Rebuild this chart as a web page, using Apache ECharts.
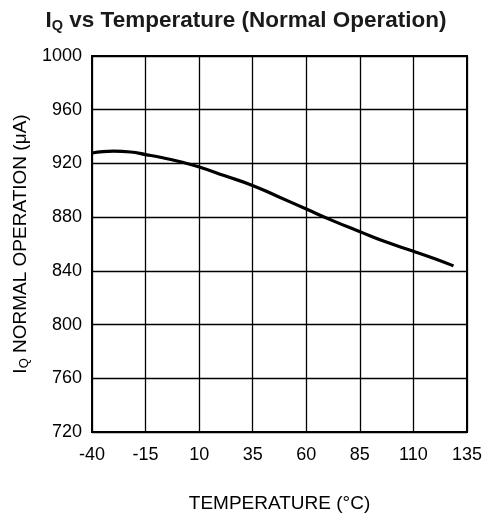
<!DOCTYPE html>
<html><head><meta charset="utf-8">
<script src="https://cdn.jsdelivr.net/npm/echarts@6/dist/echarts.min.js"></script>
<style>html,body{margin:0;padding:0;background:#fff}#c{width:487px;height:523px}</style>
</head><body><div id="c"></div>
<script>
const temperature = [-40, -35, -30, -22, -15, -7, 1.2, 9.7, 22, 34.6, 47, 60, 72, 84.8, 97, 110, 120, 128.7];
const iqNormal = [927.8, 928.8, 929.1, 928.5, 926.6, 924.2, 921.2, 917.5, 910.8, 903.8, 895.2, 886, 877.6, 869.3, 861.6, 854.6, 849, 843.7];
const xTicks = [-40, -15, 10, 35, 60, 85, 110, 135];
const yTicks = [720, 760, 800, 840, 880, 920, 960, 1000];

const font = 'Liberation Sans, Arial, sans-serif';
const chart = echarts.init(document.getElementById('c'), null, {renderer: 'canvas'});
chart.setOption({
  animation: false,
  backgroundColor: '#fff',
  title: {
    text: '{a|I}{s|Q}{a| vs Temperature (Normal Operation)}',
    left: 241, top: 3, textAlign: 'center',
    textStyle: {
      rich: {
        a: {fontFamily: font, fontWeight: 'bold', fontSize: 22.5, color: '#1a1a1a'},
        s: {fontFamily: font, fontWeight: 'bold', fontSize: 14.5, color: '#1a1a1a', verticalAlign: 'bottom', padding: [10, 0, 0, 0]}
      }
    }
  },
  grid: {left: 92, right: 20, top: 56, bottom: 91, show: true, borderColor: '#000', borderWidth: 2},
  xAxis: {
    type: 'value', min: xTicks[0], max: xTicks[xTicks.length - 1], interval: 25,
    name: 'TEMPERATURE (°C)', nameLocation: 'middle', nameGap: 62,
    nameTextStyle: {fontFamily: font, fontSize: 19, color: '#000'},
    axisLine: {onZero: false, lineStyle: {color: '#000', width: 2}},
    axisTick: {show: false},
    axisLabel: {fontFamily: font, fontSize: 18, color: '#000', margin: 14, formatter: v => String(v)},
    splitLine: {lineStyle: {color: '#000', width: 1.3}}
  },
  yAxis: {
    type: 'value', min: yTicks[0], max: yTicks[yTicks.length - 1], interval: 40,
    name: '{a|I}{s|Q}{a| NORMAL OPERATION (μA)}', nameLocation: 'middle', nameGap: 60,
    nameTextStyle: {
      rich: {
        a: {fontFamily: font, fontSize: 19, color: '#000'},
        s: {fontFamily: font, fontSize: 13, color: '#000', verticalAlign: 'bottom', padding: [7, 0, 0, 0]}
      }
    },
    axisLine: {onZero: false, lineStyle: {color: '#000', width: 2}},
    axisTick: {show: false},
    axisLabel: {fontFamily: font, fontSize: 18, color: '#000', margin: 10, formatter: v => String(v)},
    splitLine: {lineStyle: {color: '#000', width: 1.3}}
  },
  series: [{
    type: 'line', smooth: true, showSymbol: false,
    data: temperature.map((t, i) => [t, iqNormal[i]]),
    lineStyle: {color: '#000', width: 3.2},
    z: 5
  }]
});
</script></body></html>
